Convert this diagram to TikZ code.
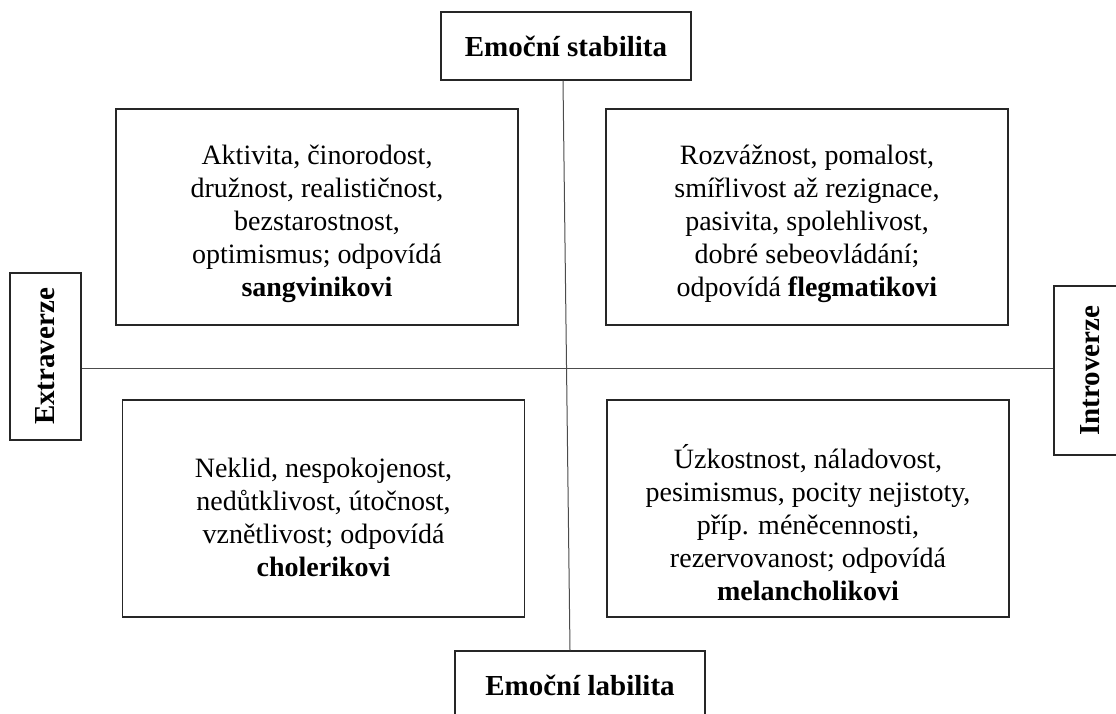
\documentclass[tikz,border=0pt]{standalone}
\usepackage{fontspec}
\setmainfont{Liberation Serif}
\begin{document}
\begin{tikzpicture}[x=1pt,y=-1pt,
  frame/.style={draw=black!85,line width=1.3pt,rectangle,inner sep=0pt},
  body/.style={inner sep=0pt,align=center,font=\fontsize{28}{33}\selectfont},
  axisbox/.style={frame,align=center,font=\fontsize{29}{33}\selectfont\bfseries},
  conn/.style={draw=black!70,line width=1pt}]
\useasboundingbox (0,0) rectangle (1116,713);
\clip (0,0) rectangle (1116,713);
\node[axisbox,minimum width=250pt,minimum height=68pt] (top) at (566,46) {Emoční stabilita};
\node[axisbox,minimum width=250pt,minimum height=68pt] (bot) at (580,685) {Emoční labilita};
\node[axisbox,minimum width=167pt,minimum height=71pt,rotate=90] (left) at (45.5,356.5) {Extraverze};
\node[axisbox,minimum width=169pt,minimum height=72pt,rotate=90] (right) at (1090,370.5) {Introverze};
\node[frame,minimum width=402pt,minimum height=216pt] (tl) at (317,217) {};
\node[frame,minimum width=402pt,minimum height=216pt] (tr) at (807,217) {};
\node[frame,minimum width=402pt,minimum height=217pt] (bl) at (323.5,508.5) {};
\node[frame,minimum width=402pt,minimum height=217pt] (br) at (808,508.5) {};
\node[body] (tltext) at ([yshift=-7pt]tl.center)
  {Aktivita, činorodost,\\ družnost, realističnost,\\ bezstarostnost,\\ optimismus; odpovídá\\ \textbf{sangvinikovi}};
\node[body] (trtext) at ([yshift=-7pt]tr.center)
  {Rozvážnost, pomalost,\\ smířlivost až rezignace,\\ pasivita, spolehlivost,\\ dobré sebeovládání;\\ odpovídá \textbf{flegmatikovi}};
\node[body] (bltext) at ([yshift=-9pt]bl.center)
  {Neklid, nespokojenost,\\ nedůtklivost, útočnost,\\ vznětlivost; odpovídá\\ \textbf{cholerikovi}};
\node[body] (brtext) at ([yshift=-14pt]br.center)
  {Úzkostnost, náladovost,\\ pesimismus, pocity nejistoty,\\ příp. méněcennosti,\\ rezervovanost; odpovídá\\ \textbf{melancholikovi}};
\draw[conn] ([xshift=-3pt]top.south) -- ([xshift=-10pt]bot.north);
\draw[conn] ([yshift=-11.5pt]left.south) -- ([yshift=2.5pt]right.north);
\end{tikzpicture}
\end{document}
